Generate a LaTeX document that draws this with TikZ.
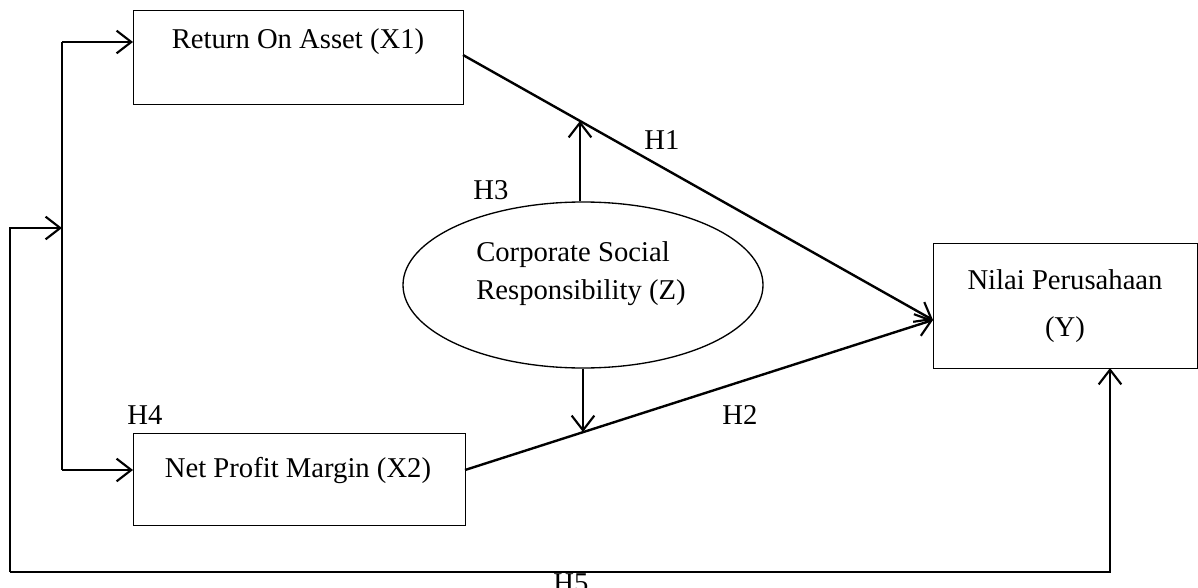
\documentclass[tikz,border=0pt]{standalone}
\usepackage{fontspec}
\setmainfont{Liberation Serif}
\usetikzlibrary{arrows.meta,shapes.geometric}
\begin{document}
\begin{tikzpicture}[x=0.75pt,y=-0.75pt,
  box/.style={draw,line width=1pt,minimum width=#1,inner sep=0pt,anchor=north west},
  lbl/.style={font=\fontsize{21.5}{26}\selectfont,inner sep=0pt},
  conn/.style={line width=1.8pt,-{Straight Barb[length=11pt,width=17pt,line width=1.6pt]}},
  plain/.style={line width=1.8pt}]
\useasboundingbox (0,0) rectangle (1198,588);
% boxes
\node[box=247.5pt,minimum height=70.5pt] (x1) at (133,10) {};
\node[box=249pt,minimum height=69pt] (x2) at (133,433) {};
\node[box=198pt,minimum height=93.75pt] (y) at (933,243) {};
\node[draw,ellipse,line width=1pt,minimum width=270pt,minimum height=124.5pt,inner sep=0pt] (z) at (583,285) {};
% texts
\node[lbl] (tx1) at (298,42) {Return On Asset (X1)};
\node[lbl] (tx2) at (298,470) {Net Profit Margin (X2)};
\node[lbl,anchor=west] (tz1) at (476,255) {Corporate Social};
\node[lbl,anchor=west] (tz2) at (476,293) {Responsibility (Z)};
\node[lbl] (ty1) at (1065,280) {Nilai Perusahaan};
\node[lbl] (ty2) at (1065,330) {(Y)};
\node[lbl] (h1) at (662,140) {H1};
\node[lbl] (h2) at (740,415) {H2};
\node[lbl] (h3) at (491,190) {H3};
\node[lbl] (h4) at (145,415) {H4};
\node[lbl] (h5) at (571,583) {H5};
% coordinates
\coordinate (ytip) at (933,320);
\coordinate (x1out) at (463,55);
\coordinate (x2out) at (465,470);
\coordinate (up) at (580,121);
\coordinate (down) at (583,432);
\coordinate (vtop) at (62,42);
\coordinate (vbot) at (62,470);
\coordinate (vmid) at (62,228);
\coordinate (ol) at (10,228);
\coordinate (obl) at (10,572);
\coordinate (obr) at (1110,572);
\coordinate (ybot) at (1110,368);
% connectors
\draw[conn] (x1out) -- (ytip);
\draw[conn] (x2out) -- (ytip);
\draw[conn] (z.north -| up) -- (up);
\draw[conn] (z.south -| down) -- (down);
\draw[plain] (vtop) -- (vbot);
\draw[conn] (vtop) -- (x1.west |- vtop);
\draw[conn] (vbot) -- (x2.west |- vbot);
\draw[conn] (obl) -- (ol) -- (vmid);
\draw[conn] (obl) -- (obr) -- (ybot);
\end{tikzpicture}
\end{document}
